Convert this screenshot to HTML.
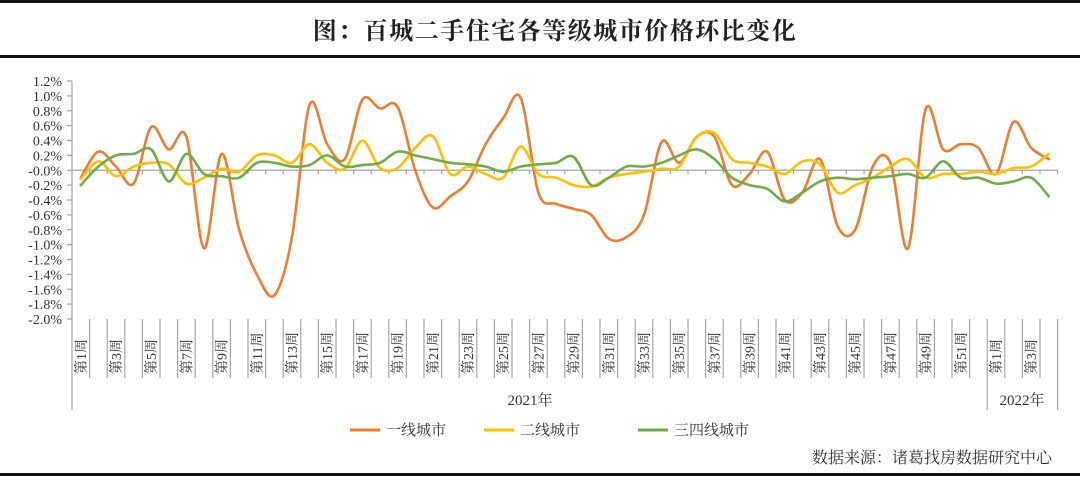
<!DOCTYPE html>
<html><head><meta charset="utf-8"><style>
body{margin:0;background:#fff;width:1080px;height:477px;overflow:hidden}
svg text{font-family:"Liberation Serif","Noto Serif CJK SC",serif}
</style></head><body>
<svg id="s" width="1080" height="477" xmlns="http://www.w3.org/2000/svg">
<rect x="0" y="0" width="1080" height="3" fill="#111"/>
<rect x="0" y="55" width="1080" height="3" fill="#111"/>
<rect x="0" y="473" width="1080" height="3" fill="#111"/>
<text x="555" y="39" font-size="24" text-anchor="middle" fill="#222" font-weight="bold" letter-spacing="1.5">图：百城二手住宅各等级城市价格环比变化</text>
<g id="ax" stroke="#a6a6a6" stroke-width="1.2" fill="none"></g>
<g id="lbl" font-size="14" fill="#333"></g>
<g id="ser" fill="none" stroke-width="2.6" stroke-linejoin="round" stroke-linecap="round"></g>
<text x="530" y="405" font-size="15" text-anchor="middle" fill="#333">2021年</text>
<text x="1022" y="405" font-size="15" text-anchor="middle" fill="#333">2022年</text>
<line x1="350" y1="430" x2="380" y2="430" stroke="#ED7D31" stroke-width="3"/>
<text x="386" y="435" font-size="15" fill="#333">一线城市</text>
<line x1="484" y1="430" x2="514" y2="430" stroke="#FFC000" stroke-width="3"/>
<text x="520" y="435" font-size="15" fill="#333">二线城市</text>
<line x1="638" y1="430" x2="668" y2="430" stroke="#70AD47" stroke-width="3"/>
<text x="674" y="435" font-size="15" fill="#333">三四线城市</text>
<text x="1052" y="463" font-size="16" text-anchor="end" fill="#333">数据来源：诸葛找房数据研究中心</text>
</svg>
<script>
var NS="http://www.w3.org/2000/svg";
function el(p,t,a,txt){var e=document.createElementNS(NS,t);for(var k in a)e.setAttribute(k,a[k]);if(txt!=null)e.textContent=txt;p.appendChild(e);return e;}
var X0=72,W=17.6,N=56,Y0=170.25,K=74.375;
var ax=document.getElementById('ax'),lb=document.getElementById('lbl'),se=document.getElementById('ser');
el(ax,'line',{x1:X0,y1:81,x2:X0,y2:410});
el(ax,'line',{x1:X0,y1:Y0,x2:X0+N*W,y2:Y0});
for(var i=0;i<=16;i++){var v=1.2-i*0.2,y=81+i*14.875;
 el(ax,'line',{x1:X0-5,y1:y,x2:X0,y2:y});
 el(lb,'text',{x:62,y:y+5,'text-anchor':'end'},v.toFixed(1)+'%');}
for(var i=0;i<=N;i++){var x=X0+i*W;
 el(ax,'line',{x1:x,y1:Y0,x2:x,y2:Y0+4});
 var bot=(i==0||i==52||i==56)?410:378;
 if(i>0)el(ax,'line',{x1:x,y1:319,x2:x,y2:bot});}
for(var i=0;i<N;i+=2){var wk=i<52?i+1:i-51;var cx=X0+i*W+W/2+5;
 el(lb,'text',{x:0,y:0,'font-size':'14',transform:'translate('+cx+',374) rotate(-90)'},'第'+wk+'周');}
var O=[-0.1,0.25,0.05,-0.18,0.58,0.28,0.45,-1.05,0.22,-0.8,-1.4,-1.68,-0.9,0.88,0.35,0.15,0.95,0.83,0.85,0.0,-0.5,-0.35,-0.15,0.35,0.7,0.97,-0.3,-0.45,-0.52,-0.6,-0.92,-0.9,-0.6,0.38,0.1,0.45,0.45,-0.2,-0.05,0.25,-0.4,-0.3,0.15,-0.75,-0.8,0.05,0.1,-1.05,0.82,0.28,0.35,0.3,-0.05,0.65,0.3,0.15];
var Yl=[-0.12,0.12,-0.08,0.05,0.1,0.08,-0.18,-0.1,0.02,-0.02,0.2,0.2,0.1,0.35,0.1,0.02,0.4,0.03,0.03,0.3,0.46,-0.05,0.05,-0.05,-0.1,0.32,-0.05,-0.1,-0.2,-0.22,-0.1,-0.05,-0.02,0.02,0.05,0.45,0.5,0.15,0.1,0.05,-0.05,0.12,0.08,-0.3,-0.2,-0.1,0.05,0.15,-0.1,-0.05,-0.05,-0.02,-0.05,0.03,0.05,0.22];
var G=[-0.2,0.05,0.2,0.22,0.28,-0.15,0.22,-0.05,-0.08,-0.1,0.1,0.1,0.05,0.07,0.2,0.05,0.07,0.1,0.25,0.2,0.15,0.1,0.08,0.05,-0.02,0.05,0.08,0.1,0.18,-0.2,-0.1,0.05,0.05,0.1,0.2,0.28,0.15,-0.1,-0.2,-0.25,-0.42,-0.3,-0.15,-0.1,-0.12,-0.1,-0.08,-0.05,-0.1,0.12,-0.1,-0.1,-0.18,-0.15,-0.1,-0.35];
function path(d){var p=d.map(function(v,i){return[X0+W*(i+0.5),Y0-v*K];});
 var s='M'+p[0][0]+','+p[0][1];
 for(var i=0;i<p.length-1;i++){var a=p[i-1]||p[i],b=p[i],c=p[i+1],e=p[i+2]||c;
  s+=' C'+(b[0]+(c[0]-a[0])/6)+','+(b[1]+(c[1]-a[1])/6)+' '+(c[0]-(e[0]-b[0])/6)+','+(c[1]-(e[1]-b[1])/6)+' '+c[0]+','+c[1];}
 return s;}
el(se,'path',{d:path(O),stroke:'#ED7D31'});
el(se,'path',{d:path(Yl),stroke:'#FFC000'});
el(se,'path',{d:path(G),stroke:'#70AD47'});
</script>
</body></html>
